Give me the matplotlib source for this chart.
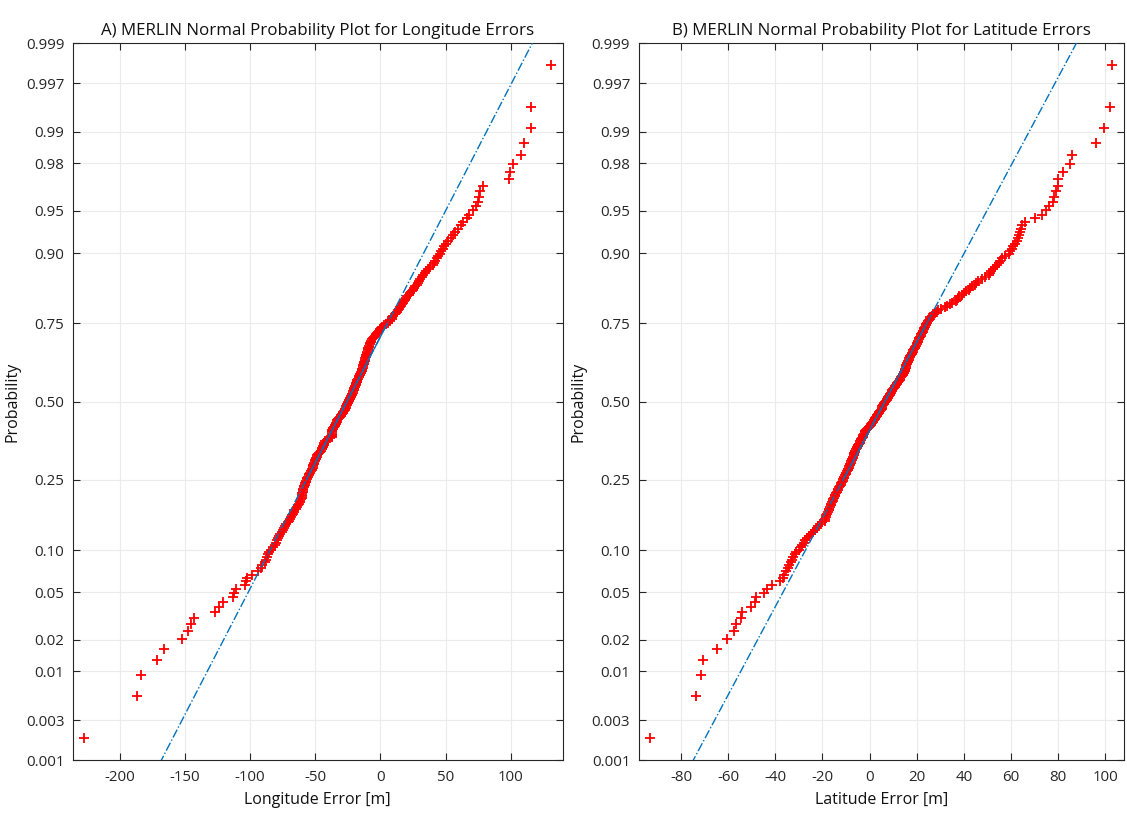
import numpy as np
import matplotlib
matplotlib.use('Agg')
import matplotlib.pyplot as plt
from statistics import NormalDist

# ---------------- data (sorted errors) ----------------
lon_err = [
    -227.0, -186.7, -183.3, -171.3, -165.6, -152.0, -147.7, -145.0, -142.6, -126.9,
    -123.8, -120.8, -113.1, -112.3, -111.0, -103.5, -102.8, -102.0, -98.2, -93.8,
    -91.5, -90.5, -88.5, -87.5, -86.7, -86.0, -85.4, -84.0, -82.5, -81.0,
    -80.2, -79.5, -78.7, -78.0, -76.8, -75.6, -74.6, -73.8, -73.0, -72.1,
    -71.2, -70.2, -69.2, -68.3, -67.8, -67.2, -66.6, -66.0, -65.1, -64.2,
    -63.3, -62.5, -62.0, -61.5, -61.0, -60.5, -60.3, -60.1, -59.9, -59.7,
    -59.5, -59.2, -58.8, -58.5, -58.1, -57.8, -57.4, -57.0, -56.6, -56.2,
    -55.6, -55.0, -54.4, -53.7, -53.1, -52.5, -52.3, -52.0, -51.7, -51.4,
    -51.0, -50.7, -50.3, -50.0, -49.6, -49.3, -48.9, -48.5, -47.8, -47.0,
    -46.2, -45.5, -45.1, -44.7, -44.4, -44.0, -43.6, -43.3, -42.9, -42.5,
    -41.3, -40.0, -38.8, -37.5, -37.5, -37.5, -37.5, -37.5, -37.1, -36.8,
    -36.4, -36.0, -35.6, -35.1, -34.7, -34.3, -33.9, -33.4, -33.0, -32.4,
    -31.8, -31.2, -30.6, -30.0, -29.5, -29.0, -28.5, -28.0, -27.5, -27.1,
    -26.7, -26.4, -26.0, -25.6, -25.2, -24.8, -24.4, -24.0, -23.6, -23.2,
    -22.8, -22.4, -22.0, -21.7, -21.3, -20.9, -20.5, -20.2, -19.9, -19.7,
    -19.4, -19.1, -18.8, -18.6, -18.3, -18.0, -17.6, -17.2, -16.8, -16.4,
    -16.0, -15.6, -15.2, -14.8, -14.4, -14.0, -13.8, -13.5, -13.3, -13.0,
    -12.8, -12.5, -12.3, -12.0, -11.8, -11.5, -11.3, -11.0, -10.8, -10.5,
    -10.3, -10.0, -9.8, -9.5, -9.3, -9.0, -8.6, -8.1, -7.7, -7.3,
    -6.9, -6.4, -6.0, -5.2, -4.3, -3.5, -2.7, -1.8, -1.0, -0.2,
    0.7, 1.5, 2.8, 4.5, 6.0, 7.0, 7.5, 8.5, 9.2, 10.0,
    10.8, 11.7, 12.5, 13.3, 14.2, 15.0, 15.9, 16.8, 17.6, 18.4,
    19.2, 19.9, 20.6, 21.7, 22.8, 23.9, 25.0, 25.9, 26.8, 27.7,
    28.6, 29.5, 30.6, 31.7, 32.8, 33.9, 35.0, 36.7, 38.3, 40.0,
    41.0, 42.0, 43.0, 44.5, 46.0, 46.8, 47.7, 48.5, 50.2, 52.0,
    53.8, 55.5, 57.0, 59.5, 61.5, 63.6, 66.5, 68.0, 70.6, 73.0,
    74.7, 75.6, 76.7, 78.9, 98.9, 99.7, 101.7, 108.0, 110.0, 115.6,
    115.8, 130.8,
]

lat_err = [
    -93.1, -73.5, -71.7, -70.8, -64.9, -60.3, -57.5, -56.8, -54.7, -54.0,
    -50.5, -48.7, -48.1, -44.9, -43.5, -41.4, -37.9, -36.9, -36.2, -35.6,
    -34.4, -34.0, -33.5, -32.8, -32.3, -31.6, -31.0, -30.0, -29.2, -28.5,
    -28.0, -27.4, -26.5, -25.6, -24.8, -24.0, -23.3, -22.5, -21.8, -21.0,
    -20.0, -19.1, -18.9, -18.6, -18.3, -18.0, -17.7, -17.4, -17.1, -16.8,
    -16.5, -16.3, -16.0, -15.7, -15.4, -15.1, -14.8, -14.5, -14.2, -13.8,
    -13.5, -13.2, -12.9, -12.6, -12.3, -12.0, -11.7, -11.4, -11.1, -10.9,
    -10.7, -10.4, -10.1, -9.8, -9.6, -9.3, -9.0, -8.8, -8.6, -8.4,
    -8.2, -8.0, -7.8, -7.6, -7.4, -7.2, -7.0, -6.8, -6.6, -6.5,
    -6.2, -6.0, -5.7, -5.5, -5.2, -5.0, -4.7, -4.5, -4.2, -4.0,
    -3.7, -3.5, -3.2, -3.0, -2.8, -2.6, -2.4, -2.1, -1.9, -1.6,
    -1.2, -0.8, -0.4, 0.0, 0.4, 0.8, 1.1, 1.5, 1.9, 2.2,
    2.5, 2.8, 3.0, 3.3, 3.6, 3.9, 4.2, 4.5, 4.8, 5.1,
    5.3, 5.4, 5.7, 6.0, 6.3, 6.6, 6.9, 7.2, 7.5, 7.8,
    8.0, 8.3, 8.6, 8.8, 9.1, 9.4, 9.7, 10.0, 10.3, 10.6,
    10.9, 11.2, 11.5, 11.8, 12.1, 12.5, 12.8, 13.1, 13.4, 13.7,
    14.0, 14.3, 14.5, 14.7, 14.9, 15.1, 15.2, 15.3, 15.4, 15.6,
    15.7, 15.8, 16.1, 16.3, 16.6, 16.8, 17.1, 17.3, 17.6, 17.8,
    18.1, 18.3, 18.6, 18.9, 19.1, 19.4, 19.6, 19.9, 20.1, 20.4,
    20.6, 20.9, 21.1, 21.4, 21.7, 22.0, 22.2, 22.5, 22.7, 23.0,
    23.2, 23.5, 23.8, 24.0, 24.4, 24.8, 25.2, 25.5, 25.8, 26.3,
    27.0, 27.8, 28.5, 29.0, 30.5, 32.0, 33.0, 34.0, 35.0, 36.5,
    37.0, 37.5, 38.0, 39.0, 40.0, 41.0, 42.0, 42.5, 43.5, 44.5,
    45.0, 46.0, 47.5, 49.0, 50.5, 51.0, 51.5, 52.5, 53.0, 54.0,
    55.0, 55.5, 56.0, 57.5, 59.0, 59.5, 60.3, 61.0, 61.5, 62.5,
    63.0, 63.4, 63.8, 64.2, 64.6, 66.0, 70.3, 73.1, 74.8, 76.2,
    78.0, 78.4, 79.0, 79.8, 80.0, 82.2, 85.0, 85.7, 96.1, 99.5,
    102.1, 103.0,
]

prob_ticks = [0.001, 0.003, 0.01, 0.02, 0.05, 0.10, 0.25, 0.50,
              0.75, 0.90, 0.95, 0.98, 0.99, 0.997, 0.999]
prob_labels = ['0.001', '0.003', '0.01', '0.02', '0.05', '0.10', '0.25', '0.50',
               '0.75', '0.90', '0.95', '0.98', '0.99', '0.997', '0.999']
lon_xticks = [-200, -150, -100, -50, 0, 50, 100]
lat_xticks = [-80, -60, -40, -20, 0, 20, 40, 60, 80, 100]

titles = ['A) MERLIN Normal Probability Plot for Longitude Errors',
          'B) MERLIN Normal Probability Plot for Latitude Errors']
xlabels = ['Longitude Error [m]', 'Latitude Error [m]']
ylabel = 'Probability'

# ---------------- style ----------------
plt.rcParams['font.family'] = ['Open Sans', 'DejaVu Sans']
AXC = '#262626'
LINEC = '#0072BD'
nd = NormalDist()


def probplot(ax, data, title, xlabel, xticks):
    x = np.sort(np.asarray(data, dtype=float))
    n = len(x)
    p = (np.arange(1, n + 1) - 0.5) / n
    z = np.array([nd.inv_cdf(v) for v in p])
    q1, q3 = np.percentile(x, [25, 75], method='hazen')
    z1, z3 = nd.inv_cdf(0.25), nd.inv_cdf(0.75)
    slope = (z3 - z1) / (q3 - q1)

    ax.plot(x, z, '+', color='#ff0000', ms=7, mew=1.3, zorder=3)
    xe = np.array([x[0], x[-1]])
    ax.plot(xe, z1 + slope * (xe - q1), '-.', color=LINEC, lw=1.0, zorder=4)
    ax.plot([q1, q3], [z1, z3], '-', color=LINEC, lw=1.0, zorder=4)

    r = x[-1] - x[0]
    ax.set_xlim(x[0] - 0.025 * r, x[-1] + 0.025 * r)
    ax.set_ylim(nd.inv_cdf(0.001), nd.inv_cdf(0.999))
    ax.set_yticks([nd.inv_cdf(v) for v in prob_ticks])
    ax.set_yticklabels(prob_labels)
    ax.set_xticks(xticks)
    ax.set_xticklabels([str(t) for t in xticks])

    ax.grid(True, color='#ebebeb', lw=0.8, zorder=0)
    ax.set_axisbelow(True)
    ax.tick_params(direction='in', length=5, width=0.8, colors=AXC,
                   labelsize=10.8, top=True, right=True)
    ax.tick_params(axis='x', pad=7)
    ax.tick_params(axis='y', pad=6)
    for s in ax.spines.values():
        s.set_color(AXC)
        s.set_linewidth(0.8)
    ax.set_title(title, fontsize=12.2, color='#111111', pad=6)
    ax.set_xlabel(xlabel, fontsize=11.5, color='#111111', labelpad=5)
    ax.set_ylabel(ylabel, fontsize=11.5, color='#111111', labelpad=4)


fig = plt.figure(figsize=(11.27, 8.15), dpi=100)
ax1 = fig.add_axes([72.7 / 1127, 55 / 815, 490 / 1127, 716.7 / 815])
ax2 = fig.add_axes([638.5 / 1127, 55 / 815, 485.5 / 1127, 716.7 / 815])

probplot(ax1, lon_err, titles[0], xlabels[0], lon_xticks)
probplot(ax2, lat_err, titles[1], xlabels[1], lat_xticks)

fig.savefig('out.png', dpi=100)
